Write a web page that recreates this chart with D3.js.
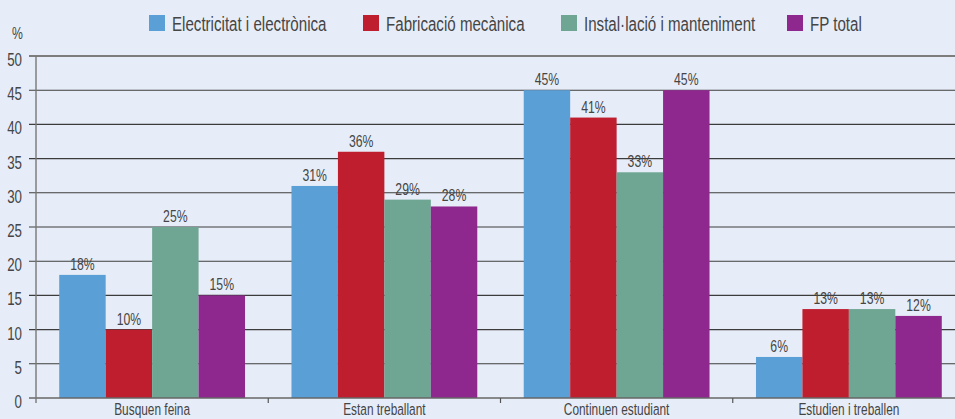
<!DOCTYPE html>
<html>
<head>
<meta charset="utf-8">
<script src="https://cdn.jsdelivr.net/npm/d3@7"></script>
<style>
  html, body { margin: 0; padding: 0; background: #e7edf8; }
  svg { display: block; }
  text { font-family: "Liberation Sans", Arial, sans-serif; fill: #454545; }
</style>
</head>
<body>
<svg id="chart" width="955" height="419"></svg>
<script>
// Situació dels titulats d'FP per família professional (%)
const categories = ["Busquen feina", "Estan treballant", "Continuen estudiant", "Estudien i treballen"];
const seriesNames = ["Electricitat i electrònica", "Fabricació mecànica", "Instal·lació i manteniment", "FP total"];
const electricitat = [18, 31, 45, 6];
const fabricacio = [10, 36, 41, 13];
const installacio = [25, 29, 33, 13];
const fpTotal = [15, 28, 45, 12];
const yTicks = [0, 5, 10, 15, 20, 25, 30, 35, 40, 45, 50];
const colors = ["#5a9fd5", "#be1e2d", "#6fa593", "#8e278e"];

const seriesValues = [electricitat, fabricacio, installacio, fpTotal];

const svg = d3.select("#chart");
const W = 955;
const plotLeft = 36, plotTop = 56, plotBottom = 398, plotRight = 965;
const narrow = 0.72; // horizontal squeeze for a condensed look

// place a text at (x, y) squeezed horizontally around its anchor
const place = (x, yy) => `translate(${x},${yy}) scale(${narrow},1)`;

const y = d3.scaleLinear().domain([0, 50]).range([plotBottom, plotTop]);
const x0 = d3.scaleBand().domain(categories).range([plotLeft, plotRight]).paddingInner(0).paddingOuter(0);
const x1 = d3.scaleBand().domain(seriesNames).range([0, x0.bandwidth()]).paddingInner(0).paddingOuter(0.5);

// horizontal grid lines with left tick stubs
svg.append("g").selectAll("line")
  .data(yTicks.filter(t => t > 0))
  .join("line")
  .attr("x1", plotLeft - 7).attr("x2", W)
  .attr("y1", d => y(d)).attr("y2", d => y(d))
  .attr("stroke", d => d === 50 ? "#7d7d7d" : "#3c3c3c")
  .attr("stroke-width", d => d === 50 ? 1.8 : 1.1);

// y tick labels
svg.append("g").selectAll("text")
  .data(yTicks)
  .join("text")
  .attr("transform", d => place(22, y(d) + 10))
  .attr("text-anchor", "end")
  .attr("font-size", 18.5)
  .text(d => d);

svg.append("text").attr("transform", place(12, 39)).attr("font-size", 17).text("%");

// bars
const groups = svg.append("g").selectAll("g")
  .data(categories)
  .join("g")
  .attr("transform", d => `translate(${x0(d)},0)`);

const cells = (c, ci) => seriesNames.map((s, si) => ({ s, si, v: seriesValues[si][ci] }));

groups.selectAll("rect")
  .data(cells)
  .join("rect")
  .attr("x", d => x1(d.s))
  .attr("width", x1.bandwidth())
  .attr("y", d => y(d.v))
  .attr("height", d => y(0) - y(d.v))
  .attr("fill", d => colors[d.si]);

groups.selectAll("text.val")
  .data(cells)
  .join("text")
  .attr("class", "val")
  .attr("transform", d => place(x1(d.s) + x1.bandwidth() / 2, y(d.v) - 5))
  .attr("text-anchor", "middle")
  .attr("font-size", 17)
  .text(d => d.v + "%");

// axis lines
svg.append("line").attr("x1", plotLeft - 7).attr("x2", W).attr("y1", plotBottom).attr("y2", plotBottom)
  .attr("stroke", "#666").attr("stroke-width", 1.4);
svg.append("line").attr("x1", plotLeft).attr("x2", plotLeft).attr("y1", plotTop).attr("y2", plotBottom + 5)
  .attr("stroke", "#777").attr("stroke-width", 1.4);

// category separators below axis
svg.append("g").selectAll("line")
  .data(categories.slice(1))
  .join("line")
  .attr("x1", d => x0(d)).attr("x2", d => x0(d))
  .attr("y1", plotBottom).attr("y2", plotBottom + 5)
  .attr("stroke", "#555").attr("stroke-width", 1.2);

// category labels
svg.append("g").selectAll("text")
  .data(categories)
  .join("text")
  .attr("transform", d => place(x0(d) + x0.bandwidth() / 2, 415))
  .attr("text-anchor", "middle")
  .attr("font-size", 16.5)
  .text(d => d);

// legend
const legendX = [149, 363, 561, 787];
const legend = svg.append("g").selectAll("g")
  .data(seriesNames)
  .join("g")
  .attr("transform", (d, i) => `translate(${legendX[i]},15)`);
legend.append("rect").attr("width", 16).attr("height", 16).attr("fill", (d, i) => colors[i]);
legend.append("text").attr("transform", place(23, 16)).attr("font-size", 21).text(d => d);
</script>
</body>
</html>
